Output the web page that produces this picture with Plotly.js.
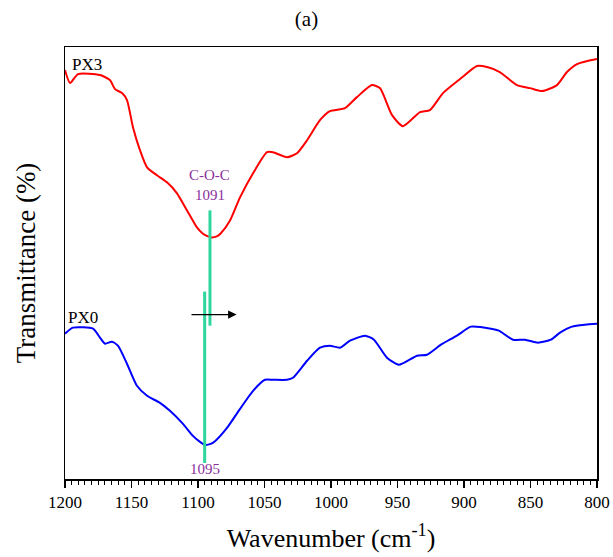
<!DOCTYPE html>
<html><head><meta charset="utf-8">
<script src="https://cdn.plot.ly/plotly-3.0.1.min.js"></script>
<style>body{margin:0;padding:0;}#chart{width:613px;height:557px;}</style>
</head><body><div id="chart"></div>
<script>
const px3Wn = [1200,1196.2,1190.2,1173.7,1166.2,1162.4,1157.1,1153.4,1148.9,1143.6,1138.3,1130.8,1123.3,1115.8,1108.3,1100.8,1096.5,1092.5,1089.5,1086.0,1083.0,1075.9,1068.4,1058.6,1048.1,1043.6,1033.1,1025.6,1018.0,1008.3,1000.8,989.5,980.5,969.2,963.2,954.1,945.9,933.1,925.6,915.8,903.0,890.2,882.7,873.1,860.2,850.4,841.4,830.1,822.6,815.0,800];
const px3T = [408,395,404,403,398,389,385,378,351,328,311,303,296,285,268,251,245,242,241,242,245,258,281,305,326,326,321,325,338,358,367,370,381,393,390,363,352,366,368,385,399,412,411,406,393,390,387,393,406,414,419];
const px0Wn = [1200,1194.0,1178.9,1173.7,1169.9,1164.7,1160.2,1153.4,1145.9,1138.3,1128.6,1121.1,1111.3,1103.8,1098.5,1094.7,1090.5,1087.0,1078.2,1068.4,1058.6,1049.6,1043.6,1033.1,1028.6,1018.0,1008.3,1000.8,993.2,985.7,974.4,967.7,957.9,948.9,935.3,927.8,917.3,905.3,894.7,879.7,873.7,863.2,854.1,844.4,834.6,827.8,818.8,809.0,800];
const px0T = [145,151,150,141,135,137,133,115,93,83,76,68,55,43,37,34,35,38,51,70,88,99,99,99,101,118,131,133,131,138,143,139,121,114,123,124,134,143,152,150,148,139,139,136,139,146,152,154,155];
const peakPX3 = 1091, peakPX3Span = [153, 268];
const peakPX0 = 1095, peakPX0Span = [16, 187];
const seriesNames = ['PX3','PX0'];
const bandName = 'C-O-C';
const xTicks = [1200,1150,1100,1050,1000,950,900,850,800];

const serif = '"Liberation Serif", "Times New Roman", Times, serif';
const green = '#2fd69c';
const purple = '#8a2f9c';

const traces = [
  {x:px3Wn, y:px3T, mode:'lines', line:{color:'#ff0000', width:2, shape:'spline', smoothing:0.6}, hoverinfo:'skip'},
  {x:px0Wn, y:px0T, mode:'lines', line:{color:'#0000ff', width:2, shape:'spline', smoothing:0.6}, hoverinfo:'skip'},
  {x:[peakPX3,peakPX3], y:peakPX3Span, mode:'lines', line:{color:green, width:3}, hoverinfo:'skip'},
  {x:[peakPX0,peakPX0], y:peakPX0Span, mode:'lines', line:{color:green, width:3}, hoverinfo:'skip'}
];

const layout = {
  width:613, height:557,
  margin:{l:65, r:16, t:47, b:78},
  paper_bgcolor:'#fff', plot_bgcolor:'#fff',
  font:{family:serif, color:'#000'},
  showlegend:false,
  title:{text:'(a)', font:{family:serif, size:21, color:'#000'}, x:0.5, xanchor:'center', y:0.966, yanchor:'middle'},
  xaxis:{
    range:[1200,800], tickvals:xTicks, ticktext:xTicks.map(String),
    showgrid:false, zeroline:false, showline:true, linecolor:'#000', linewidth:1.5, mirror:true,
    ticks:'outside', ticklen:7, tickwidth:1.2, tickcolor:'#000',
    minor:{dtick:5, ticks:'outside', ticklen:4, tickwidth:1, tickcolor:'#000', showgrid:false},
    tickfont:{family:serif, size:17, color:'#000'},
    title:{text:'Wavenumber (cm<sup>-1</sup>)', font:{family:serif, size:26, color:'#000'}, standoff:18}
  },
  yaxis:{
    range:[0,431], showticklabels:false, ticks:'', showgrid:false, zeroline:false,
    showline:true, linecolor:'#000', linewidth:1.5, mirror:true,
    title:{text:'Transmittance (%)', font:{family:serif, size:27, color:'#000'}, standoff:20}
  },
  annotations:[
    {x:1196, y:414, text:seriesNames[0], showarrow:false, xanchor:'left', yanchor:'middle', font:{family:serif, size:17, color:'#000'}},
    {x:1199, y:161, text:seriesNames[1], showarrow:false, xanchor:'left', yanchor:'middle', font:{family:serif, size:17, color:'#000'}},
    {x:peakPX3, y:303, text:bandName, showarrow:false, font:{family:serif, size:15, color:purple}},
    {x:peakPX3, y:283, text:String(peakPX3), showarrow:false, font:{family:serif, size:15, color:purple}},
    {x:peakPX0, y:10, text:String(peakPX0), showarrow:false, font:{family:serif, size:15, color:purple}},
    {x:1071, y:164, ax:1106, ay:164, axref:'x', ayref:'y', xref:'x', yref:'y', text:'', showarrow:true, arrowhead:2, arrowsize:1.3, arrowwidth:1.3, arrowcolor:'#000'}
  ]
};
Plotly.newPlot('chart', traces, layout, {displayModeBar:false, staticPlot:true});
</script></body></html>
